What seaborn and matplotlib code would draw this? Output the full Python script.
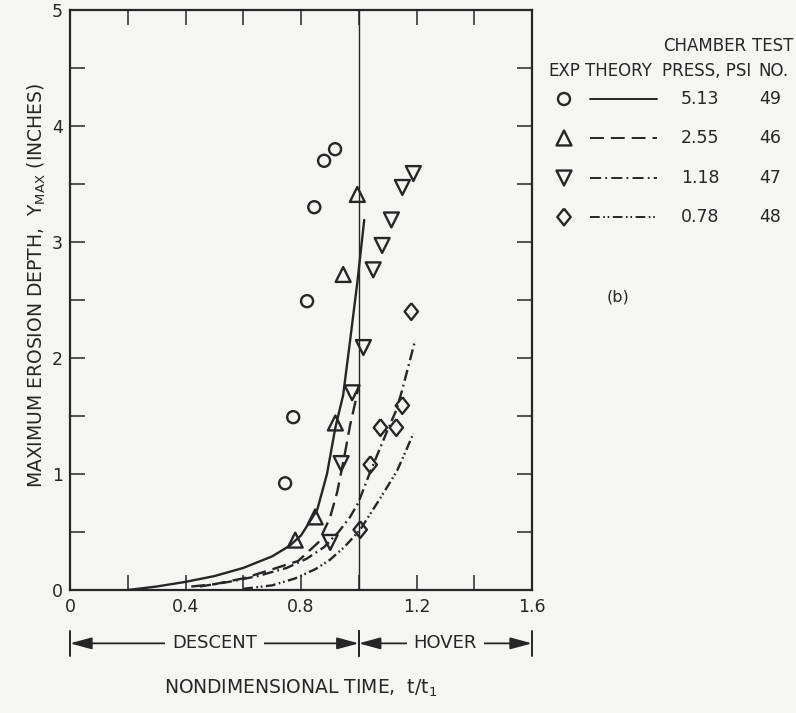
import matplotlib
matplotlib.use("Agg")
import matplotlib.pyplot as plt
import matplotlib.ticker as mticker
from matplotlib.transforms import blended_transform_factory
import numpy as np
import pandas as pd
import seaborn as sns

# ---------------- experimental points: t/t1 and y_max (inches) ----------------
t_exp_49 = [0.745, 0.773, 0.821, 0.846, 0.880, 0.918]
y_exp_49 = [0.92, 1.49, 2.49, 3.30, 3.70, 3.80]

t_exp_46 = [0.780, 0.849, 0.919, 0.946, 0.995]
y_exp_46 = [0.43, 0.63, 1.44, 2.72, 3.41]

t_exp_47 = [0.901, 0.939, 0.977, 1.016, 1.050, 1.081, 1.113, 1.151, 1.189]
y_exp_47 = [0.41, 1.09, 1.70, 2.09, 2.76, 2.97, 3.19, 3.47, 3.59]

t_exp_48 = [1.005, 1.040, 1.075, 1.130, 1.151, 1.182]
y_exp_48 = [0.52, 1.08, 1.40, 1.40, 1.59, 2.40]

# ---------------- theoretical curves ----------------
t_th_49 = [0.20, 0.30, 0.40, 0.50, 0.60, 0.70, 0.76, 0.80, 0.856, 0.89, 0.919, 0.946, 0.97, 0.995, 1.019]
y_th_49 = [0.00, 0.03, 0.07, 0.12, 0.19, 0.29, 0.38, 0.47, 0.69, 1.00, 1.40, 1.68, 2.15, 2.65, 3.19]

t_th_46 = [0.42, 0.50, 0.60, 0.69, 0.79, 0.86, 0.90, 0.925, 0.95, 0.97, 0.99, 1.00]
y_th_46 = [0.03, 0.05, 0.10, 0.17, 0.25, 0.41, 0.62, 0.84, 1.15, 1.42, 1.64, 1.76]

t_th_47 = [0.45, 0.55, 0.65, 0.75, 0.82, 0.88, 0.93, 0.97, 0.998, 1.04, 1.07, 1.10, 1.13, 1.15, 1.172, 1.196]
y_th_47 = [0.03, 0.07, 0.12, 0.19, 0.27, 0.37, 0.50, 0.63, 0.75, 1.02, 1.20, 1.38, 1.55, 1.72, 1.93, 2.16]

t_th_48 = [0.60, 0.70, 0.78, 0.85, 0.90, 0.95, 1.005, 1.064, 1.099, 1.133, 1.16, 1.189]
y_th_48 = [0.01, 0.04, 0.10, 0.18, 0.26, 0.37, 0.52, 0.75, 0.89, 1.03, 1.18, 1.35]

# ---------------- key table ----------------
chamber_press = ["5.13", "2.55", "1.18", "0.78"]
test_no = ["49", "46", "47", "48"]

x_ticks = [0, 0.4, 0.8, 1.2, 1.6]
x_tick_labels = ["0", "0.4", "0.8", "1.2", "1.6"]
y_ticks = [0, 1, 2, 3, 4, 5]
y_tick_labels = ["0", "1", "2", "3", "4", "5"]

# ---------------- style ----------------
INK = "#262626"
BG = "#f5f5f4"
tall_diamond = [(0, 1), (0.8, 0), (0, -1), (-0.8, 0), (0, 1)]

series = [
    dict(t_exp=t_exp_49, y_exp=y_exp_49, t_th=t_th_49, y_th=y_th_49,
         marker="o", s=75, ls="-"),
    dict(t_exp=t_exp_46, y_exp=y_exp_46, t_th=t_th_46, y_th=y_th_46,
         marker="^", s=115, ls=(0, (10, 5))),
    dict(t_exp=t_exp_47, y_exp=y_exp_47, t_th=t_th_47, y_th=y_th_47,
         marker="v", s=115, ls=(0, (8, 3, 1.3, 3))),
    dict(t_exp=t_exp_48, y_exp=y_exp_48, t_th=t_th_48, y_th=y_th_48,
         marker=tall_diamond, s=145, ls=(0, (7, 2.5, 1.2, 2, 1.2, 2.5))),
]

sns.set_theme(style="ticks")
plt.rcParams.update({
    "font.family": ["DejaVu Sans"],
    "text.color": INK,
    "axes.labelcolor": INK,
    "xtick.color": INK,
    "ytick.color": INK,
    "axes.edgecolor": INK,
    "lines.scale_dashes": False,
    "mathtext.default": "regular",
})

fig = plt.figure(figsize=(7.96, 7.13), dpi=100, facecolor=BG)
ax = fig.add_axes([70 / 796, 1 - 590 / 713, 462 / 796, 580 / 713])
ax.set_facecolor(BG)

for sp in series:
    sns.lineplot(x=sp["t_th"], y=sp["y_th"], ax=ax, color=INK, linewidth=1.7,
                 linestyle=sp["ls"], estimator=None, sort=False, legend=False)
    sns.scatterplot(x=sp["t_exp"], y=sp["y_exp"], ax=ax, marker=sp["marker"],
                    s=sp["s"], facecolor="none", edgecolor=INK, linewidth=1.7,
                    legend=False, zorder=3)

# boundary between descent and hover
ax.axvline(1.0, color=INK, linewidth=1.0, zorder=1)

ax.set_xlim(0, 1.6)
ax.set_ylim(0, 5)
ax.set_xticks(x_ticks)
ax.set_xticklabels(x_tick_labels)
ax.set_yticks(y_ticks)
ax.set_yticklabels(y_tick_labels)
ax.xaxis.set_minor_locator(mticker.MultipleLocator(0.2))
ax.yaxis.set_minor_locator(mticker.MultipleLocator(0.5))
ax.tick_params(which="both", direction="in", length=11, width=1.1,
               top=True, right=True, labelsize=12.5)
ax.tick_params(axis="x", pad=6)
ax.tick_params(axis="y", pad=5)
for sp_name in ax.spines:
    ax.spines[sp_name].set_linewidth(1.6)

ax.set_xlabel("NONDIMENSIONAL TIME,  t/t$_1$", fontsize=13.5)
ax.xaxis.set_label_coords(0.5, -0.152)
ax.set_ylabel("MAXIMUM EROSION DEPTH,  Y$_{MAX}$ (INCHES)", fontsize=13.5)
ax.yaxis.set_label_coords(-0.048, 0.525)

# descent / hover span annotation below the axis
tr = blended_transform_factory(ax.transData, ax.transAxes)
y_span = -0.092
for x0, x1 in [(0.0, 1.0), (1.0, 1.6)]:
    ax.plot([x0, x0], [y_span - 0.022, y_span + 0.022], color=INK, lw=1.4,
            transform=tr, clip_on=False)
    ax.plot([x1, x1], [y_span - 0.022, y_span + 0.022], color=INK, lw=1.4,
            transform=tr, clip_on=False)
    mid = (x0 + x1) / 2
    for end in (x0, x1):
        ax.annotate("", xy=(end, y_span), xytext=(mid, y_span),
                    xycoords=tr, textcoords=tr,
                    arrowprops=dict(arrowstyle="-|>,head_length=1.1,head_width=0.3",
                                    color=INK, lw=1.3, shrinkA=0, shrinkB=0,
                                    mutation_scale=12))
for x0, x1, label in [(0.0, 1.0, "DESCENT"), (1.0, 1.6, "HOVER")]:
    ax.text((x0 + x1) / 2, y_span, label, transform=tr, ha="center", va="center",
            fontsize=13, bbox=dict(facecolor=BG, edgecolor="none", pad=5),
            zorder=5, clip_on=False)

# key table at the right, laid out in figure pixels
key = fig.add_axes([0, 0, 1, 1])
key.set_xlim(0, 796)
key.set_ylim(713, 0)
key.axis("off")
hdr = dict(fontsize=12, ha="center", va="center", color=INK)
key.text(705, 46, "CHAMBER", **hdr)
key.text(773, 46, "TEST", **hdr)
key.text(564, 71, "EXP", **hdr)
key.text(618, 71, "THEORY", **hdr)
key.text(707, 71, "PRESS, PSI", **hdr)
key.text(773, 71, "NO.", **hdr)
row_y = [99, 138, 178, 217]
for sp, yy, pr, no in zip(series, row_y, chamber_press, test_no):
    key.scatter([564], [yy], marker=sp["marker"], s=sp["s"], facecolor="none",
                edgecolor=INK, linewidth=1.7)
    key.plot([590, 657], [yy, yy], color=INK, lw=1.4, linestyle=sp["ls"])
    key.text(700, yy, pr, fontsize=12.5, ha="center", va="center", color=INK)
    key.text(770, yy, no, fontsize=12.5, ha="center", va="center", color=INK)
key.text(618, 297, "(b)", fontsize=11.5, ha="center", va="center", color=INK)

fig.savefig("out.png", dpi=100, facecolor=BG)
